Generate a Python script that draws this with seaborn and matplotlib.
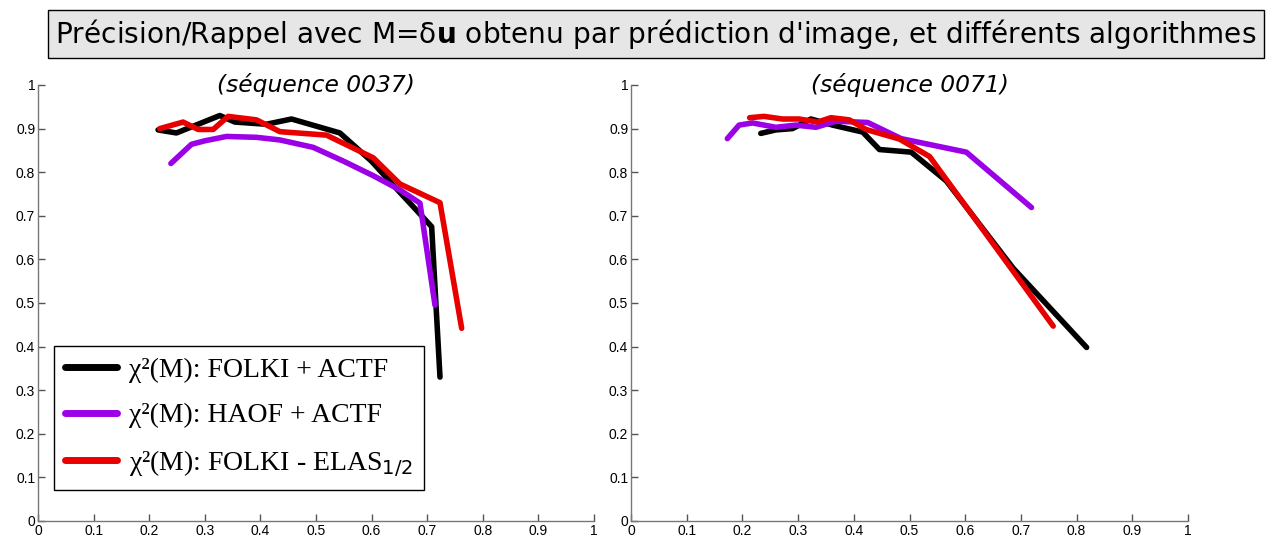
import numpy as np
import pandas as pd
import matplotlib
matplotlib.use("Agg")
import matplotlib.pyplot as plt
import seaborn as sns

# ---- data ----
seq_titles = ["(séquence 0037)", "(séquence 0071)"]
series_names = [r"χ²(M): FOLKI + ACTF",
                r"χ²(M): HAOF + ACTF",
                r"χ²(M): FOLKI - ELAS$_{1/2}$"]

# sequence 0037
s37_folki_actf_x = [0.216, 0.249, 0.327, 0.354, 0.411, 0.456, 0.543, 0.600, 0.650, 0.690, 0.708, 0.723]
s37_folki_actf_y = [0.897, 0.890, 0.930, 0.915, 0.910, 0.922, 0.890, 0.825, 0.755, 0.700, 0.675, 0.330]
s37_haof_actf_x = [0.239, 0.276, 0.300, 0.339, 0.393, 0.435, 0.495, 0.550, 0.603, 0.650, 0.687, 0.714]
s37_haof_actf_y = [0.820, 0.864, 0.872, 0.882, 0.880, 0.874, 0.857, 0.825, 0.792, 0.760, 0.729, 0.495]
s37_folki_elas_x = [0.219, 0.261, 0.288, 0.315, 0.342, 0.393, 0.435, 0.519, 0.603, 0.651, 0.723, 0.762]
s37_folki_elas_y = [0.900, 0.915, 0.898, 0.898, 0.928, 0.920, 0.893, 0.885, 0.833, 0.773, 0.730, 0.442]

# sequence 0071
s71_folki_actf_x = [0.233, 0.260, 0.290, 0.323, 0.362, 0.416, 0.446, 0.503, 0.566, 0.686, 0.818]
s71_folki_actf_y = [0.889, 0.897, 0.900, 0.922, 0.908, 0.892, 0.852, 0.846, 0.780, 0.580, 0.398]
s71_haof_actf_x = [0.173, 0.194, 0.218, 0.260, 0.296, 0.332, 0.368, 0.425, 0.485, 0.602, 0.719]
s71_haof_actf_y = [0.877, 0.908, 0.913, 0.903, 0.908, 0.903, 0.917, 0.914, 0.877, 0.846, 0.719]
s71_folki_elas_x = [0.213, 0.239, 0.272, 0.302, 0.335, 0.359, 0.392, 0.422, 0.482, 0.536, 0.758]
s71_folki_elas_y = [0.925, 0.928, 0.922, 0.922, 0.915, 0.925, 0.920, 0.898, 0.876, 0.836, 0.447]

tick_vals = [0, 0.1, 0.2, 0.3, 0.4, 0.5, 0.6, 0.7, 0.8, 0.9, 1]
tick_labels = ["0", "0.1", "0.2", "0.3", "0.4", "0.5", "0.6", "0.7", "0.8", "0.9", "1"]

colors = ["#000000", "#9b00e6", "#e80000"]

# ---- build tables ----
def make_df(xs_list, ys_list):
    frames = []
    for name, xs, ys in zip(series_names, xs_list, ys_list):
        frames.append(pd.DataFrame({"recall": xs, "precision": ys,
                                    "series": name, "order": np.arange(len(xs))}))
    return pd.concat(frames, ignore_index=True)

df37 = make_df([s37_folki_actf_x, s37_haof_actf_x, s37_folki_elas_x],
               [s37_folki_actf_y, s37_haof_actf_y, s37_folki_elas_y])
df71 = make_df([s71_folki_actf_x, s71_haof_actf_x, s71_folki_elas_x],
               [s71_folki_actf_y, s71_haof_actf_y, s71_folki_elas_y])

sns.set_style("white")
plt.rcParams["font.family"] = ["DejaVu Sans"]
plt.rcParams["mathtext.fontset"] = "dejavusans"
plt.rcParams["text.color"] = "black"
plt.rcParams["xtick.color"] = "black"
plt.rcParams["ytick.color"] = "black"

fig = plt.figure(figsize=(12.74, 5.45), dpi=100)
ax1 = fig.add_axes([38 / 1274, 1 - 521 / 545, 556 / 1274, 436 / 545])
ax2 = fig.add_axes([631 / 1274, 1 - 521 / 545, 557 / 1274, 436 / 545])

palette = dict(zip(series_names, colors))
for ax, df, title in zip([ax1, ax2], [df37, df71], seq_titles):
    sns.lineplot(data=df, x="recall", y="precision", hue="series",
                 hue_order=series_names, palette=palette, sort=False,
                 estimator=None, units="series", linewidth=4, ax=ax,
                 legend=False)
    ax.set_xlim(0, 1)
    ax.set_ylim(0, 1)
    ax.set_xticks(tick_vals)
    ax.set_xticklabels(tick_labels)
    ax.set_yticks(tick_vals)
    ax.set_yticklabels(tick_labels)
    ax.set_xlabel("")
    ax.set_ylabel("")
    for side in ["top", "right"]:
        ax.spines[side].set_visible(False)
    for side in ["left", "bottom"]:
        ax.spines[side].set_color("#777777")
        ax.spines[side].set_linewidth(1.0)
    ax.tick_params(direction="in", length=5, width=1, color="#555555",
                   labelcolor="black", labelsize=10, pad=2,
                   left=True, bottom=True)
    for lab in ax.get_xticklabels() + ax.get_yticklabels():
        lab.set_family("Liberation Sans")
    ax.text(0.5, 1.0, title, transform=ax.transAxes, ha="center",
            va="center", fontsize=16.8, style="italic", color="black")
    ax.patch.set_alpha(0)

# legend
from matplotlib.lines import Line2D
handles = [Line2D([], [], color=c, lw=5) for c in colors]
leg = ax1.legend(handles, series_names, loc="lower left",
                 bbox_to_anchor=(0.029, 0.071), borderaxespad=0,
                 frameon=True, fancybox=False,
                 edgecolor="black", framealpha=1, handlelength=1.85,
                 handletextpad=0.45, labelspacing=0.72, borderpad=0.4,
                 prop={"family": ["Liberation Serif"], "size": 20})
leg.get_frame().set_linewidth(1.0)
for t in leg.get_texts():
    t.set_color("black")

# figure title in a box
fig.text(656 / 1274, 1 - 34 / 545,
         r"Précision/Rappel avec M=δ$\mathbf{u}$ obtenu par prédiction d'image, et différents algorithmes",
         ha="center", va="center", fontsize=20.2, color="black",
         bbox=dict(boxstyle="square,pad=0.25", facecolor="#e6e6e6",
                   edgecolor="black", linewidth=1.0))

fig.savefig("out.png", dpi=100)
